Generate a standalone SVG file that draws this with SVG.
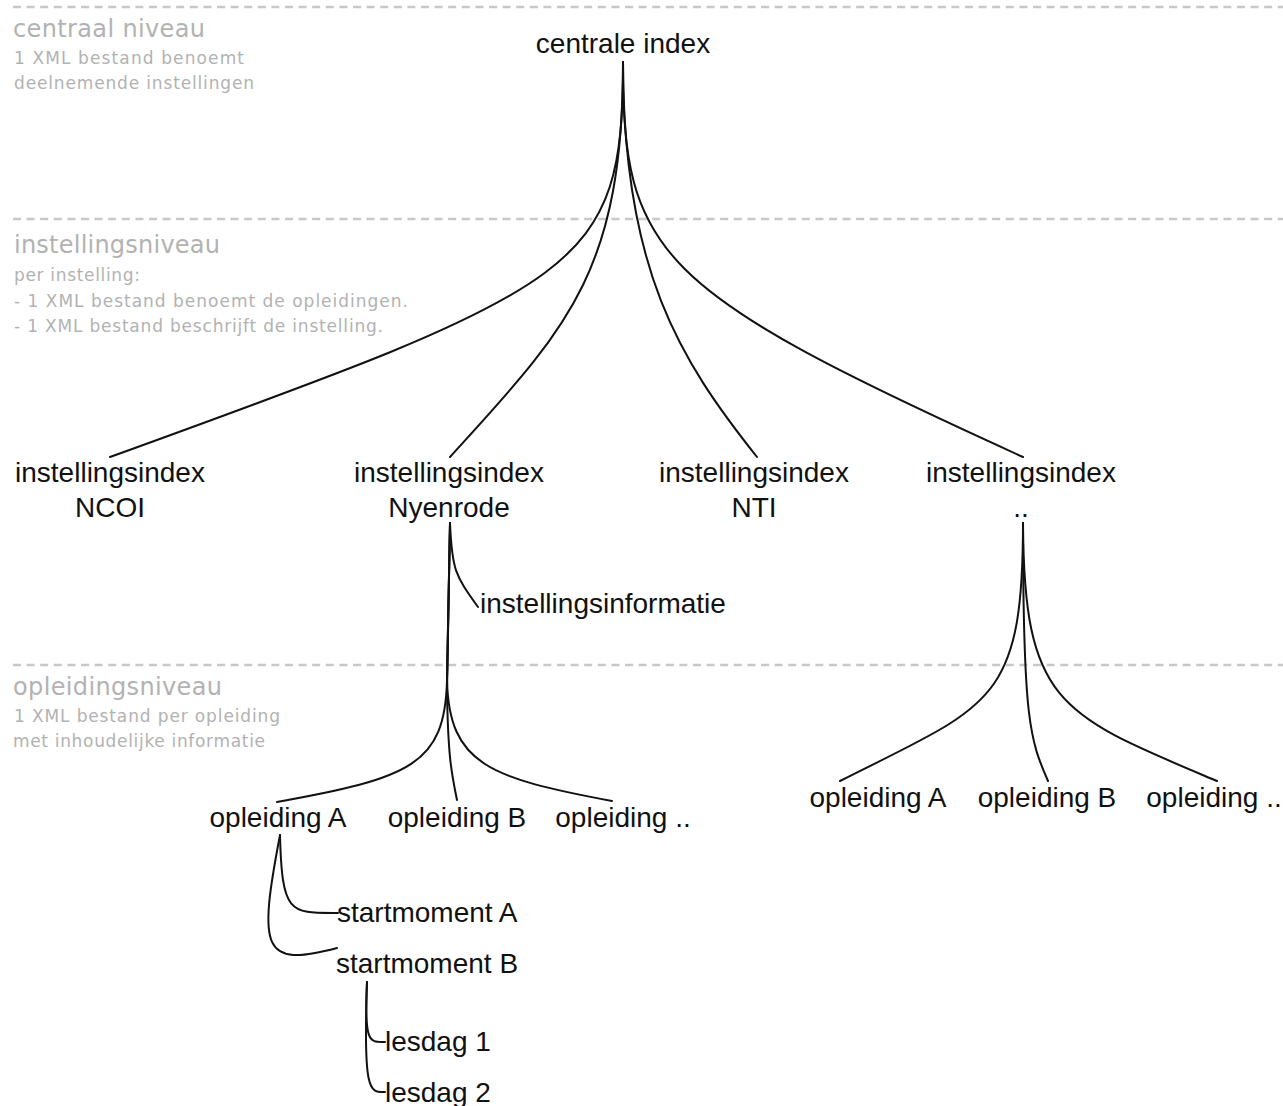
<svg xmlns="http://www.w3.org/2000/svg" width="1283" height="1106" viewBox="0 0 1283 1106">
<style>
.dash{stroke:#c8c8c8;stroke-width:2.5;stroke-dasharray:8 5.6;fill:none}
.lvl{font-family:"DejaVu Sans","Liberation Sans",sans-serif;fill:#b2b2b2}
.h{font-size:24px}
.s{font-size:17px}
.n{font-family:"Liberation Sans",Arial,sans-serif;font-size:28px;fill:#111}
.c{text-anchor:middle}
.e{fill:none;stroke:#111;stroke-width:2;stroke-linecap:round}
</style>
<rect width="1283" height="1106" fill="#fff"/>
<g id="levels">
<line class="dash" x1="13" y1="7" x2="1283" y2="7"/>
<line class="dash" x1="13" y1="219" x2="1283" y2="219"/>
<line class="dash" x1="13" y1="665" x2="1283" y2="665"/>
<text class="lvl h" x="13" y="37" textLength="192" lengthAdjust="spacing">centraal niveau</text>
<text class="lvl s" x="14" y="64" textLength="230" lengthAdjust="spacing">1 XML bestand benoemt</text>
<text class="lvl s" x="14" y="89" textLength="240" lengthAdjust="spacing">deelnemende instellingen</text>
<text class="lvl h" x="14" y="253" textLength="206" lengthAdjust="spacing">instellingsniveau</text>
<text class="lvl s" x="14" y="281" textLength="126" lengthAdjust="spacing">per instelling:</text>
<text class="lvl s" x="14" y="307" textLength="394" lengthAdjust="spacing">- 1 XML bestand benoemt de opleidingen.</text>
<text class="lvl s" x="14" y="332" textLength="369" lengthAdjust="spacing">- 1 XML bestand beschrijft de instelling.</text>
<text class="lvl h" x="13" y="695" textLength="209" lengthAdjust="spacing">opleidingsniveau</text>
<text class="lvl s" x="14" y="722" textLength="266" lengthAdjust="spacing">1 XML bestand per opleiding</text>
<text class="lvl s" x="13" y="747" textLength="252" lengthAdjust="spacing">met inhoudelijke informatie</text>
</g>
<g id="connectors">
<path class="e" d="M623,62 C623,270 585,285 110,457"/>
<path class="e" d="M623,62 C623,275 565,330 450,457"/>
<path class="e" d="M623,62 C623,270 680,360 757,457"/>
<path class="e" d="M623,62 C623,255 655,290 1023,457"/>
<path class="e" d="M450,523 C452,570 455,575 478,607"/>
<path class="e" d="M450,523 L447,680 C445,765 410,778 277,802"/>
<path class="e" d="M450,523 L447,690 C448,760 452,775 457,800"/>
<path class="e" d="M450,523 L447,680 C449,765 490,778 612,801"/>
<path class="e" d="M1023,523 C1023,705 990,705 840,781"/>
<path class="e" d="M1023,523 C1023,720 1030,740 1048,781"/>
<path class="e" d="M1023,523 C1024,705 1060,715 1217,781"/>
<path class="e" d="M280,835 C282,915 290,913 338,913"/>
<path class="e" d="M280,835 C258,950 262,968 337,948"/>
<path class="e" d="M367,982 C364,1045 370,1042 385,1042"/>
<path class="e" d="M367,982 C363,1095 370,1092 385,1092"/>
</g>
<g id="n-central"><text class="n c" x="623" y="53">centrale index</text></g>
<g id="n-ncoi"><text class="n c" x="110" y="482">instellingsindex</text><text class="n c" x="110" y="517">NCOI</text></g>
<g id="n-nyenrode"><text class="n c" x="449" y="482">instellingsindex</text><text class="n c" x="449" y="517">Nyenrode</text></g>
<g id="n-nti"><text class="n c" x="754" y="482">instellingsindex</text><text class="n c" x="754" y="517">NTI</text></g>
<g id="n-other"><text class="n c" x="1021" y="482">instellingsindex</text><text class="n c" x="1021" y="517">..</text></g>
<g id="n-info"><text class="n" x="480" y="613">instellingsinformatie</text></g>
<g id="n-oplA1"><text class="n c" x="278" y="827">opleiding A</text></g>
<g id="n-oplB1"><text class="n c" x="457" y="827">opleiding B</text></g>
<g id="n-oplX1"><text class="n c" x="623" y="827">opleiding ..</text></g>
<g id="n-oplA2"><text class="n c" x="878" y="807">opleiding A</text></g>
<g id="n-oplB2"><text class="n c" x="1047" y="807">opleiding B</text></g>
<g id="n-oplX2"><text class="n c" x="1214" y="807">opleiding ..</text></g>
<g id="n-smA"><text class="n" x="337" y="922">startmoment A</text></g>
<g id="n-smB"><text class="n" x="336" y="973">startmoment B</text></g>
<g id="n-les1"><text class="n" x="385" y="1051">lesdag 1</text></g>
<g id="n-les2"><text class="n" x="385" y="1102">lesdag 2</text></g>
</svg>
